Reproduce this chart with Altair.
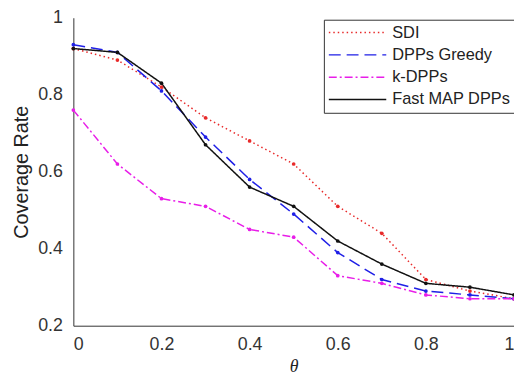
import altair as alt
import pandas as pd

theta = [0, 0.1, 0.2, 0.3, 0.4, 0.5, 0.6, 0.7, 0.8, 0.9, 1.0]
series_names = ["SDI", "DPPs Greedy", "k-DPPs", "Fast MAP DPPs"]
sdi = [0.92, 0.89, 0.82, 0.74, 0.68, 0.62, 0.51, 0.44, 0.32, 0.29, 0.27]
greedy = [0.93, 0.91, 0.81, 0.69, 0.58, 0.49, 0.39, 0.32, 0.29, 0.28, 0.27]
kdpp = [0.76, 0.62, 0.53, 0.51, 0.45, 0.43, 0.33, 0.31, 0.28, 0.27, 0.27]
fastmap = [0.92, 0.91, 0.83, 0.67, 0.56, 0.51, 0.42, 0.36, 0.31, 0.30, 0.28]

colors = ["#e82a2a", "#1f1fe6", "#e81ee8", "#111111"]
dashes = [[1.5, 3], [12, 6], [8, 3, 2, 3], [1, 0]]

rows = []
for name, vals in zip(series_names, [sdi, greedy, kdpp, fastmap]):
    for t, v in zip(theta, vals):
        rows.append({"theta": t, "rate": v, "series": name})
df = pd.DataFrame(rows)

font = "Liberation Sans"

x = alt.X("theta:Q", title="θ",
          scale=alt.Scale(domain=[0, 1], nice=False),
          axis=alt.Axis(values=[0, 0.2, 0.4, 0.6, 0.8, 1.0], grid=False,
                        labelExpr="datum.value == 0 ? '0' : datum.value == 1 ? '1' : format(datum.value, '.1f')",
                        titleFont="Liberation Serif", titleFontStyle="italic",
                        titleFontWeight="normal", titleFontSize=18, titlePadding=4,
                        labelPadding=10))
y = alt.Y("rate:Q", title="Coverage Rate",
          scale=alt.Scale(domain=[0.2, 1], nice=False),
          axis=alt.Axis(values=[0.2, 0.4, 0.6, 0.8, 1.0], grid=False,
                        labelExpr="datum.value == 1 ? '1' : format(datum.value, '.1f')",
                        titleFontWeight="normal", titleFontSize=20, titlePadding=6,
                        labelPadding=11))

color = alt.Color("series:N", sort=series_names,
                  scale=alt.Scale(domain=series_names, range=colors),
                  legend=alt.Legend(title=None, orient="none", legendX=253, legendY=2,
                                    strokeColor="#333333", fillColor="white",
                                    padding=4, symbolType="stroke", symbolSize=3364,
                                    symbolStrokeWidth=1.5, labelFontSize=16.5,
                                    labelFont=font, rowPadding=4.5, clipHeight=18,
                                    labelLimit=300, labelOffset=5, labelColor="#222222"))
dash = alt.StrokeDash("series:N", sort=series_names,
                      scale=alt.Scale(domain=series_names, range=dashes),
                      legend=alt.Legend(title=None, orient="none", legendX=253, legendY=2))

chart = alt.Chart(df).mark_line(
    strokeWidth=1.5,
    point=alt.OverlayMarkDef(size=14, filled=True)
).encode(x=x, y=y, color=color, strokeDash=dash).properties(
    width=445, height=311,
    padding={"left": 66, "top": 8, "right": 0, "bottom": 52},
    autosize=alt.AutoSizeParams(type="none")
).configure_axis(
    labelFont=font, titleFont=font, labelFontSize=18, labelColor="#333333",
    titleColor="#222222", domainColor="#333333", ticks=False
).configure_view(stroke=None)

chart.save("out.html", embed_options={"renderer": "svg", "actions": False})
